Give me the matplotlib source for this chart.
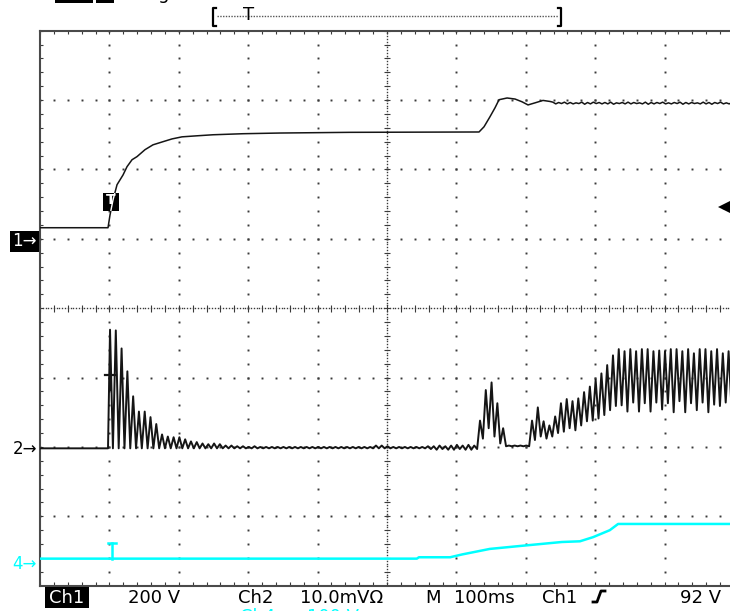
import numpy as np
import matplotlib.pyplot as plt
from matplotlib.patches import Rectangle
from matplotlib.lines import Line2D

plt.rcParams['font.family'] = ['DejaVu Sans']

# time axis: ms from the left edge of the screen, 100 ms/div, trigger at 100 ms
ripple_period = 8.33  # ms, 120 Hz ripple

# Ch1: 200 V/div, ground marker one division above centre
ch1_pos, ch1_scale = 1.0, 200.0
ch1_t = [0, 98.0, 100.9, 105.2, 111.0, 119.6, 125.4, 132.6, 139.8, 151.3, 162.8,
         177.2, 190.2, 204.6, 226.2, 249.3, 292.5, 345.8, 446.7, 632.6, 639.8,
         648.4, 655.7, 661.4, 673.0, 684.5, 694.6, 703.2, 713.3, 724.8, 734.9]
ch1_v = [32, 32, 69, 112, 156, 184, 208, 228, 237, 257, 271,
         280, 288, 294, 297, 300, 303, 305, 307, 308, 323,
         352, 378, 401, 406, 403, 395, 386, 392, 399, 396]
ch1_tail_start = 739.0
ch1_tail_hi = [394, 393, 394, 393, 392, 394, 393, 394, 393, 393, 394, 392, 393, 394, 393, 392,
               394, 393, 393, 394, 392, 393, 394, 393, 393, 392, 394, 393, 393, 394, 392, 393]
ch1_tail_lo = [389, 390, 389, 389, 390, 388, 389, 390, 389, 389, 388, 390, 389, 389, 390, 389,
               388, 389, 390, 389, 389, 390, 388, 389, 390, 389, 389, 388, 390, 389, 389, 390]

# Ch2: 10.0 mV/div, one peak and one trough per ripple cycle (mV)
ch2_pos, ch2_scale = -2.02, 10.0
ch2_first_peak = 100.9
ch2_peaks = [
    # inrush burst
    17.1, 17.0, 14.4, 11.1, 7.5, 5.3, 5.3, 4.5, 3.5, 2.0, 1.7,
    1.6, 1.6, 1.3, 1.0, 0.9, 0.7, 0.6, 0.7, 0.6, 0.4, 0.4,
    # residual ripple
    0.3, 0.3, 0.2, 0.3, 0.2, 0.2, 0.2, 0.2, 0.2, 0.2, 0.2, 0.2, 0.2, 0.2,
    0.2, 0.2, 0.2, 0.2, 0.2, 0.2, 0.2, 0.2, 0.2, 0.2, 0.4, 0.4, 0.3, 0.2,
    0.2, 0.2, 0.2, 0.2, 0.2, 0.3, 0.3, 0.4, 0.3, 0.4, 0.5, 0.4, 0.5, 0.4,
    # second burst and pause
    4.0, 8.4, 9.5, 6.5, 2.9, 0.4, 0.4, 0.4, 0.4,
    # load ramp
    4.0, 5.9, 3.9, 3.3, 4.6, 6.5, 7.1, 6.8, 7.2, 8.1, 8.9, 9.9, 10.8, 12.0, 13.4, 14.3,
    14.0, 14.3, 14.0, 14.3, 14.3, 14.0, 14.1, 14.0, 14.3, 14.3, 14.0, 14.3, 13.7, 14.3,
    14.3, 14.0, 14.3, 13.7, 14.0,
]
ch2_troughs = [
    0, 0, 0, 0, 0, 0, 0, 0, 0, 0, 0,
    0, 0, 0, 0, 0, 0, 0, 0, 0, 0, 0,
    0, 0, 0, 0, 0, 0, 0, 0, 0, 0, 0, 0, 0, 0,
    0, 0, 0, 0, 0, 0, 0, 0, 0, 0, 0, 0, 0, 0,
    0, 0, 0, 0, 0, -0.1, -0.2, -0.1, -0.2, -0.2, -0.1, -0.2, -0.2, -0.1,
    1.4, 2.9, 1.7, 0.7, 0.3, 0.3, 0.3, 0.3, 0.3,
    1.2, 1.7, 1.4, 1.7, 2.2, 2.4, 2.9, 2.6, 3.3, 3.9, 4.0, 4.3, 4.8, 5.5, 6.1, 6.2,
    5.3, 6.6, 5.3, 6.5, 5.3, 6.6, 5.6, 6.5, 5.2, 6.8, 5.2, 6.5, 5.5, 6.6,
    5.2, 6.3, 6.1, 6.6, 5.8,
]

# Ch4: 100 V/div
ch4_pos, ch4_scale = -3.69, 100.0
ch4_t = [0, 543, 546, 591, 608, 648, 689, 731, 752, 778, 797, 821, 833, 1000]
ch4_v = [8, 8, 10, 10, 14, 22, 26, 30, 32, 33, 39, 49, 58, 58]

trig_level = 92  # V on Ch1
trig_time = 100  # ms

W, H = 730, 611


def fx(x):
    return x / W


def fy(y):
    return 1 - y / H


fig = plt.figure(figsize=(W / 100, H / 100), dpi=100)
ax = fig.add_axes([fx(40), fy(585.7), 694 / W, 555 / H])
ax.set_xlim(0, 1000)
ax.set_ylim(-4, 4)
ax.set_xticks([])
ax.set_yticks([])
for s in ax.spines.values():
    s.set_color('#4a4a4a')
    s.set_linewidth(1.5)

# graticule
gc = '#3a3a3a'
minor_x = np.arange(0, 1000.1, 20)
minor_y = np.arange(-4, 4.001, 0.2)
for xg in range(100, 1000, 100):
    if xg == 500:
        continue
    ax.plot(np.full_like(minor_y, xg), minor_y, ls='none', marker='s', ms=1.4, mew=0, color=gc, zorder=1)
for yg in [-3, -2, -1, 1, 2, 3]:
    ax.plot(minor_x, np.full_like(minor_x, yg), ls='none', marker='s', ms=1.4, mew=0, color=gc, zorder=1)
dense_x = np.arange(0, 1000.1, 4)
dense_y = np.arange(-4, 4.001, 0.04)
ax.plot(dense_x, np.zeros_like(dense_x), ls='none', marker='s', ms=1.0, mew=0, color=gc, zorder=1)
ax.plot(np.full_like(dense_y, 500), dense_y, ls='none', marker='s', ms=1.0, mew=0, color=gc, zorder=1)
ax.vlines(minor_x, -0.05, 0.05, color=gc, lw=0.8, zorder=1)
ax.hlines(minor_y, 495, 505, color=gc, lw=0.8, zorder=1)
ax.vlines(minor_x, 3.95, 4, color=gc, lw=0.8, zorder=1)
ax.vlines(minor_x, -4, -3.95, color=gc, lw=0.8, zorder=1)
ax.hlines(minor_y, 0, 5, color=gc, lw=0.8, zorder=1)

# Ch1 trace
t1 = list(ch1_t)
v1 = list(ch1_v)
for i, (hi, lo) in enumerate(zip(ch1_tail_hi, ch1_tail_lo)):
    t1 += [ch1_tail_start + i * ripple_period, ch1_tail_start + (i + 0.5) * ripple_period]
    v1 += [hi, lo]
y1 = ch1_pos + np.array(v1) / ch1_scale
ax.plot(t1, y1, color='#151515', lw=1.1, zorder=3)

# Ch2 trace
t2 = [0, 98.0]
v2 = [0, 0]
for k, (p, tr) in enumerate(zip(ch2_peaks, ch2_troughs)):
    t2 += [ch2_first_peak + k * ripple_period, ch2_first_peak + (k + 0.5) * ripple_period]
    v2 += [p, tr]
y2 = ch2_pos + np.array(v2) / ch2_scale
ax.plot(t2, y2, color='#151515', lw=1.4, zorder=3)

# Ch4 trace
cyan = '#00ffff'
y4 = ch4_pos + np.array(ch4_v) / ch4_scale
ax.plot(ch4_t, y4, color=cyan, lw=1.8, zorder=3)

# trigger marker on Ch1
box = Rectangle((90.8, 1.40), 23.0, 0.26, fc='black', ec='none', zorder=5)
ax.add_patch(box)
ax.text(102.5, 1.555, 'T', color='white', fontsize=10, fontweight='bold',
        ha='center', va='center', zorder=6)
wl, = ax.plot(t1, y1, color='white', lw=1.0, zorder=7)
wl.set_clip_path(box)

# Ch2 and Ch4 "I" markers at trigger time
ax.plot([trig_time - 7, trig_time + 10], [-0.963, -0.963], color='#151515', lw=1.6, zorder=4)
ax.plot([trig_time + 1, trig_time + 1], [-0.963, -1.18], color='#151515', lw=1.6, zorder=4)
ax.plot([trig_time - 2, trig_time + 9.5], [-3.383, -3.383], color=cyan, lw=1.8, zorder=4)
ax.plot([trig_time + 3.8, trig_time + 3.8], [-3.383, y4[0]], color=cyan, lw=1.8, zorder=4)

# trigger level arrow at right edge
tl = ch1_pos + trig_level / ch1_scale
ax.plot([985, 1000], [tl, tl], color='black', lw=2.5, zorder=4, clip_on=False)
ax.plot([985], [tl], marker='<', ms=9, color='black', mew=0, zorder=4, clip_on=False)

# ground markers
fig.patches.append(Rectangle((fx(10), fy(252)), 29 / W, 21 / H, transform=fig.transFigure,
                             fc='black', ec='none'))
fig.text(fx(24.5), fy(241.5), '1\u2192', color='white', fontsize=12, ha='center', va='center')
fig.text(fx(24.5), fy(449), '2\u2192', color='black', fontsize=12, ha='center', va='center')
fig.text(fx(24.5), fy(564), '4\u2192', color=cyan, fontsize=12, ha='center', va='center')

# top record bar
fig.patches.append(Rectangle((fx(55), fy(3)), 38 / W, 3 / H, transform=fig.transFigure, fc='black'))
fig.patches.append(Rectangle((fx(96), fy(3)), 18 / W, 3 / H, transform=fig.transFigure, fc='black'))
fig.text(fx(137), fy(-1), "Trig'd", fontsize=13, va='baseline', ha='left')
for xs in [(213, 216), (561, 558)]:
    fig.add_artist(Line2D([fx(xs[1]), fx(xs[0]), fx(xs[0]), fx(xs[1])],
                          [fy(8), fy(8), fy(26), fy(26)], color='black', lw=1.6))
fig.add_artist(Line2D([fx(217), fx(558)], [fy(16), fy(16)], color='#555555', lw=1.0,
                      ls=(0, (1, 1))))
fig.text(fx(248.5), fy(15), 'T', fontsize=13, ha='center', va='center')

# bottom status line
fig.patches.append(Rectangle((fx(45), fy(608)), 44 / W, 21 / H, transform=fig.transFigure,
                             fc='black', ec='none'))
base = fy(603)
labels = [(49, 'Ch1', 'white'), (128, '200 V', 'black'),
          (238, 'Ch2', 'black'), (300, '10.0mV\u03a9', 'black'),
          (425, 'M', 'black'), (454, '100ms', 'black'),
          (542, 'Ch1', 'black'), (680, '92 V', 'black')]
for x, s, c in labels:
    fig.text(fx(x), base, s, color=c, fontsize=13, ha='left', va='baseline')
fig.add_artist(Line2D([fx(593), fx(597), fx(601), fx(605)],
                      [fy(602), fy(602), fy(591), fy(591)], color='black', lw=2.0))
fig.text(fx(240), fy(622), 'Ch4', color=cyan, fontsize=13, ha='left', va='baseline')
fig.text(fx(307), fy(622), '100 V', color=cyan, fontsize=13, ha='left', va='baseline')

fig.savefig('out.png', dpi=100)
